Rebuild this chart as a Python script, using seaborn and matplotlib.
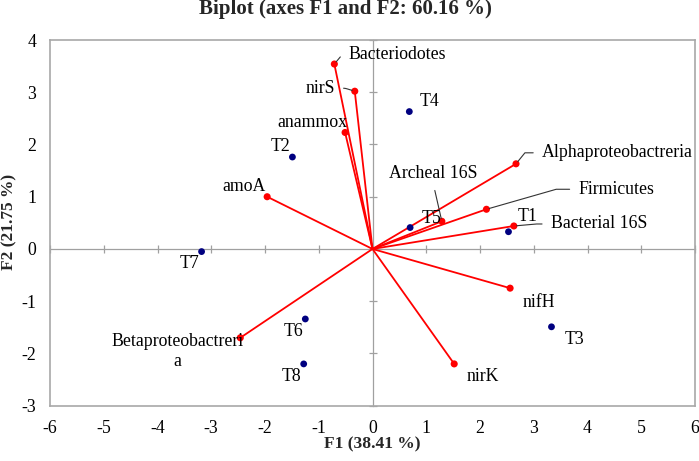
import numpy as np
import pandas as pd
import matplotlib
matplotlib.use("Agg")
import matplotlib.pyplot as plt
import seaborn as sns

# variables (loadings) and observations on F1/F2
var_names = ["Bacteriodotes", "nirS", "anammox", "amoA", "Archeal 16S",
             "Alphaproteobactreria", "Firmicutes", "Bacterial 16S",
             "nifH", "nirK", "Betaproteobactreria"]
var_f1 = [-0.71, -0.33, -0.51, -1.96, 1.29, 2.67, 2.12, 2.63, 2.56, 1.52, -2.46]
var_f2 = [3.54, 3.02, 2.23, 1.00, 0.53, 1.63, 0.76, 0.44, -0.75, -2.20, -1.70]

obs_names = ["T1", "T2", "T3", "T4", "T5", "T6", "T7", "T8"]
obs_f1 = [2.53, -1.49, 3.33, 0.685, 0.70, -1.25, -3.18, -1.28]
obs_f2 = [0.33, 1.76, -1.49, 2.63, 0.41, -1.34, -0.05, -2.20]

x_ticks = list(range(-6, 7))
y_ticks = list(range(-3, 5))

title = "Biplot (axes F1 and F2: 60.16 %)"
x_title = "F1 (38.41 %)"
y_title = "F2 (21.75 %)"

# label placement: offset in pixels, alignment, leader connection (None = no leader)
var_lab = {
    "Bacteriodotes": (14, 10, "left", "angle,angleA=0,angleB=50,rad=0", (0, 0.5)),
    "nirS": (-20, 3, "right", "angle,angleA=0,angleB=163,rad=2", (1, 0.5)),
    "anammox": (2, 10, "right", None, None),
    "amoA": (-1, 10, "right", None, None),
    "Archeal 16S": (-9, 48, "center", "arc3", (0.5, 0)),
    "Alphaproteobactreria": (26, 11, "left", "angle,angleA=0,angleB=51,rad=0", (0, 0.5)),
    "Firmicutes": (92, 20, "left", "angle,angleA=0,angleB=16,rad=0", (0, 0.5)),
    "Bacterial 16S": (37, 2, "left", "angle,angleA=0,angleB=5,rad=0", (0, 0.5)),
    "nifH": (13, -14, "left", None, None),
    "nirK": (12, -13, "left", None, None),
    "Betaproteobactreria": (-63, -14, "center", None, None),
}
obs_lab = {
    "T1": (9, 15, "left"), "T2": (-2, 11, "right"), "T3": (13, -13, "left"),
    "T4": (10, 10, "left"), "T5": (12, 9, "left"), "T6": (-2, -13, "right"),
    "T7": (-2, -12, "right"), "T8": (-2, -13, "right"),
}

sns.set_theme(style="white")
plt.rcParams["font.family"] = ["Liberation Serif", "DejaVu Serif"]
plt.rcParams["axes.unicode_minus"] = False

W, H = 699, 461
fig = plt.figure(figsize=(W / 100, H / 100), dpi=100)
rect = [50 / W, 55.3 / H, 645 / W, 365.7 / H]

# axis lines through the origin, drawn underneath
ax0 = fig.add_axes(rect, zorder=0)
ax = fig.add_axes(rect, zorder=1, sharex=ax0, sharey=ax0)
ax.patch.set_visible(False)
for s in ["top", "right"]:
    ax0.spines[s].set_visible(False)
ax0.spines["left"].set_position(("data", 0))
ax0.spines["bottom"].set_position(("data", 0))
for s in ["left", "bottom"]:
    ax0.spines[s].set_color("#a0a0a0")
    ax0.spines[s].set_linewidth(0.9)
ax0.tick_params(direction="inout", length=6, width=0.9, color="#a0a0a0",
                labelleft=False, labelbottom=False, left=True, bottom=True)

vdf = pd.DataFrame({"name": var_names, "F1": var_f1, "F2": var_f2})
odf = pd.DataFrame({"name": obs_names, "F1": obs_f1, "F2": obs_f2})

for _, r in vdf.iterrows():
    ax.plot([0, r.F1], [0, r.F2], color="#ff0000", lw=1.3, zorder=2)
sns.scatterplot(data=vdf, x="F1", y="F2", color="#ff0000", s=26,
                edgecolor="none", ax=ax, zorder=3)
sns.scatterplot(data=odf, x="F1", y="F2", color="#000080", s=24,
                edgecolor="none", ax=ax, zorder=3)

fs = 12.8
for _, r in vdf.iterrows():
    dx, dy, ha, conn, rel = var_lab[r["name"]]
    txt = r["name"]
    if txt == "Betaproteobactreria":
        txt = "Betaproteobactreri\na"
    kw = {}
    if conn:
        kw["arrowprops"] = dict(arrowstyle="-", color="#333333", lw=0.8,
                                connectionstyle=conn, relpos=rel,
                                shrinkA=4, shrinkB=2)
    ax.annotate(txt, (r.F1, r.F2), xytext=(dx, dy), textcoords="offset pixels",
                ha=ha, va="center", fontsize=fs, color="black",
                multialignment="center", linespacing=1.25, zorder=4, **kw)
for _, r in odf.iterrows():
    dx, dy, ha = obs_lab[r["name"]]
    ax.annotate(r["name"], (r.F1, r.F2), xytext=(dx, dy),
                textcoords="offset pixels", ha=ha, va="center",
                fontsize=fs, color="black", zorder=4)

ax.set_xlim(-6, 6)
ax.set_ylim(-3, 4)
ax.set_xticks(x_ticks)
ax.set_yticks(y_ticks)
ax.set_xlabel("")
ax.set_ylabel("")
ax.tick_params(length=0, pad=10, labelsize=fs, labelcolor="black")
for s in ax.spines.values():
    s.set_color("#a8a8a8")
    s.set_linewidth(1.2)
    s.set_visible(True)

fig.text(345.5 / W, 1 - 9 / H, title, ha="center", va="center",
         fontsize=15, fontweight="bold")
fig.text(372.5 / W, 1 - 444 / H, x_title, ha="center", va="center",
         fontsize=12.5, fontweight="bold")
fig.text(9 / W, 1 - 222 / H, y_title, ha="center", va="center",
         fontsize=12.5, fontweight="bold", rotation=90)

fig.savefig("out.png", dpi=100)
